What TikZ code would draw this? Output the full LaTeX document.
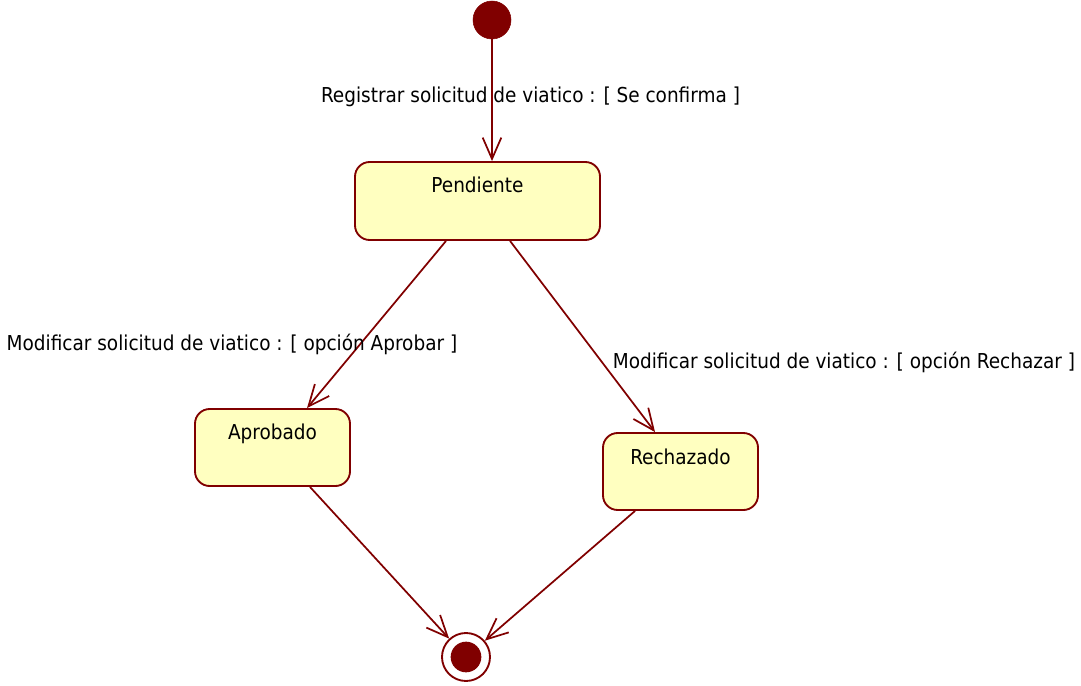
\documentclass[tikz,border=0pt]{standalone}
\usepackage{fontspec}
\setmainfont{DejaVu Sans Condensed}
\usetikzlibrary{arrows.meta}
\definecolor{umlred}{RGB}{128,0,0}
\definecolor{umlfill}{RGB}{255,255,192}
\tikzset{
  statebox/.style={draw=umlred, fill=umlfill, line width=1.4pt, rounded corners=11pt, inner sep=0pt},
  trans/.style={draw=umlred, line width=1.3pt, -{Straight Barb[length=16pt,width=14pt,line width=1.3pt]}},
  lbl/.style={font=\fontsize{15.4}{17}\selectfont, inner sep=0pt},
  stlbl/.style={font=\fontsize{15.4}{17}\selectfont, inner sep=0pt, anchor=center},
}
\begin{document}
\begin{tikzpicture}[x=0.75pt,y=-0.75pt]
\useasboundingbox (0,0) rectangle (1081,685);
% initial and final
\node[circle, fill=umlred, draw=umlred, minimum size=28.5pt, inner sep=0pt] (init) at (492,20) {};
\node[circle, draw=umlred, line width=1.4pt, fill=white, minimum size=36pt, inner sep=0pt] (fin) at (466,657) {};
\node[circle, fill=umlred, minimum size=23pt, inner sep=0pt] (finin) at (fin.center) {};
% states
\node[statebox, minimum width=183.75pt, minimum height=58.5pt,
      label={[stlbl, name=pendt, yshift=-18pt]north:Pendiente}] (pend) at (477.5,201) {};
\node[statebox, minimum width=116.25pt, minimum height=57.75pt,
      label={[stlbl, name=aprt, yshift=-19.5pt]north:Aprobado}] (apr) at (272.5,447.5) {};
\node[statebox, minimum width=116.25pt, minimum height=57.75pt,
      label={[stlbl, name=recht, yshift=-18.75pt]north:Rechazado}] (rech) at (680.5,471.5) {};
% transitions
\draw[trans] (init.south) -- (init.south |- pend.north);
\draw[trans] ([xshift=-23.6pt]pend.south) -- ([xshift=25.9pt]apr.north);
\draw[trans] ([xshift=24.4pt]pend.south) -- ([xshift=-19.1pt]rech.north);
\draw[trans] ([xshift=28.1pt]apr.south) -- (fin);
\draw[trans] ([xshift=-34.1pt]rech.south) -- (fin);
% labels
\node[lbl] (l1) at (530.5,97) {Registrar solicitud de viatico : [ Se confirma ]};
\node[lbl] (l2) at (232,344) {Modificar solicitud de viatico : [ opción Aprobar ]};
\node[lbl] (l3) at (844,362) {Modificar solicitud de viatico : [ opción Rechazar ]};
\end{tikzpicture}
\end{document}
